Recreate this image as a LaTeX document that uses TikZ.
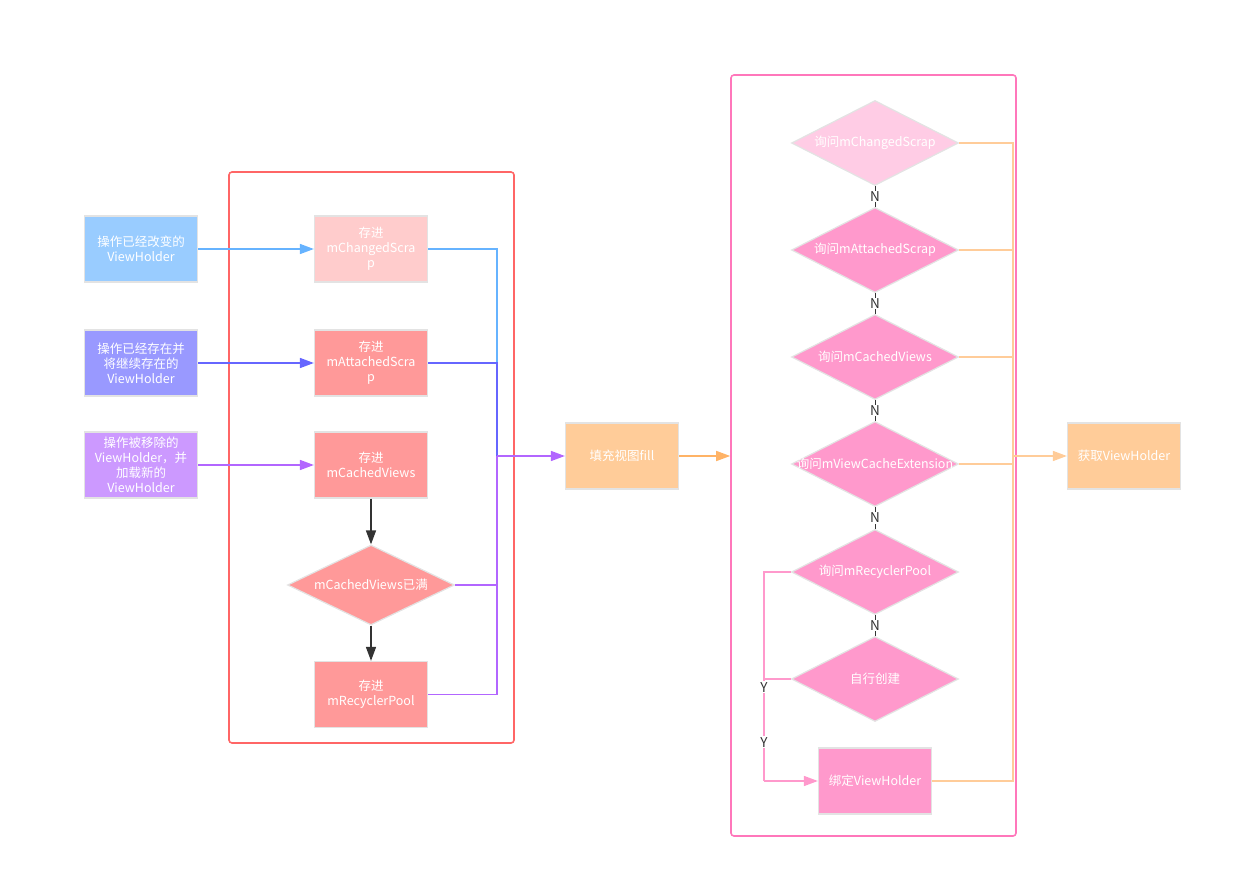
\documentclass[tikz,border=0pt]{standalone}
\usepackage{fontspec}
\setmainfont{Noto Sans CJK SC}
\usepackage{xcolor}
\usetikzlibrary{positioning}
\usetikzlibrary{arrows.meta,shapes.geometric}

\definecolor{srcblue}{HTML}{99CCFF}
\definecolor{srcviolet}{HTML}{9999FF}
\definecolor{srcpurple}{HTML}{CC99FF}
\definecolor{savelight}{HTML}{FFCCCC}
\definecolor{savered}{HTML}{FF9999}
\definecolor{fillorange}{HTML}{FFCC99}
\definecolor{asklight}{HTML}{FFCCE5}
\definecolor{askpink}{HTML}{FF99CC}
\definecolor{edgegray}{HTML}{E3E3E3}
\definecolor{lineblue}{HTML}{66B3FF}
\definecolor{lineviolet}{HTML}{6666FF}
\definecolor{linepurple}{HTML}{B266FF}
\definecolor{lineorange}{HTML}{FFB366}
\definecolor{lightorange}{HTML}{FFCC99}
\definecolor{pinkline}{HTML}{FF99CC}
\definecolor{darkline}{HTML}{333333}
\definecolor{redframe}{HTML}{FF6666}
\definecolor{pinkframe}{HTML}{FF77BB}

\tikzset{
  box/.style={rectangle, draw=edgegray, line width=1.2pt, minimum width=113pt,
    minimum height=66pt, text=white, align=center, font=\fontsize{12.5}{15}\selectfont},
  ask/.style={diamond, draw=edgegray, line width=1.2pt, minimum width=167pt,
    minimum height=85pt, inner sep=0pt, fill=askpink, text=white, font=\fontsize{12.5}{15}\selectfont},
  frame/.style={rectangle, line width=1.6pt, rounded corners=3pt},
  flow/.style={line width=1.5pt},
  wire/.style={line width=1.5pt, -{Triangle[length=14pt,width=10pt]}},
  flag/.style={fill=white, text=darkline, inner sep=1pt, font=\fontsize{13.5}{13.5}\selectfont},
}

\begin{document}
\begin{tikzpicture}[x=1pt,y=-1pt,node distance=107pt,on grid]
  \useasboundingbox (0,0) rectangle (1240,896);
  % frames
  \node[frame,draw=redframe,minimum width=285pt,minimum height=571pt] (store) at (371.5,457.5) {};
  \node[frame,draw=pinkframe,minimum width=285pt,minimum height=761pt] (query) at (873.5,455.5) {};
  % sources
  \node[box,fill=srcblue] (vhA) at (141,249) {操作已经改变的\\ViewHolder};
  \node[box,fill=srcviolet] (vhB) [below=114pt of vhA] {操作已经存在并\\将继续存在的\\ViewHolder};
  \node[box,fill=srcpurple] (vhC) [below=102pt of vhB] {操作被移除的\\ViewHolder，并\\加载新的\\ViewHolder};
  % store
  \node[box,fill=savelight] (saveA) [right=230pt of vhA] {存进\\mChangedScra\\p};
  \node[box,fill=savered] (saveB) [right=230pt of vhB] {存进\\mAttachedScra\\p};
  \node[box,fill=savered] (cached) [right=230pt of vhC] {存进\\mCachedViews};
  \node[ask,fill=savered,minimum height=80pt] (full) [below=120pt of cached] {\makebox[0pt]{mCachedViews已满}};
  \node[box,fill=savered] (pool) [below=109.5pt of full] {存进\\mRecyclerPool};
  \node[box,fill=fillorange] (fill) at (622,456) {填充视图fill};
  % query
  \node[ask,fill=asklight] (ask1) at (875,143) {\makebox[0pt]{询问mChangedScrap}};
  \node[ask] (ask2) [below=of ask1] {\makebox[0pt]{询问mAttachedScrap}};
  \node[ask] (ask3) [below=of ask2] {\makebox[0pt]{询问mCachedViews}};
  \node[ask] (ask4) [below=of ask3] {\makebox[0pt]{询问mViewCacheExtension}};
  \node[ask] (ask5) [below=108pt of ask4] {\makebox[0pt]{询问mRecyclerPool}};
  \node[ask] (ask6) [below=of ask5] {\makebox[0pt]{自行创建}};
  \node[box,fill=askpink] (bind) [below=102pt of ask6] {绑定ViewHolder};
  \node[box,fill=fillorange] (get) at (1124,456) {获取ViewHolder};
  \coordinate (inlet) at (497,456);
  \coordinate (outlet) at (1013,456);
  \coordinate (yes) at (764,781);

  \draw[wire,draw=lineblue] (vhA) -- (saveA);
  \draw[wire,draw=lineviolet] (vhB) -- (saveB);
  \draw[wire,draw=linepurple] (vhC) -- (cached);
  \draw[wire,draw=darkline] (cached) -- (full);
  \draw[wire,draw=darkline] (full) -- (pool);
  \draw[flow,draw=lineblue] (saveA) -| (inlet);
  \draw[flow,draw=lineviolet] (saveB) -| (inlet);
  \draw[flow,draw=linepurple] (full) -| (inlet);
  \draw[flow,draw=linepurple] (pool) -| (inlet);
  \draw[wire,draw=linepurple] (inlet) -- (fill);
  \draw[wire,draw=lineorange] (fill) -- (fill -| query.west);

  \draw[darkline] (ask1) -- node[flag] {N} (ask2);
  \draw[darkline] (ask2) -- node[flag] {N} (ask3);
  \draw[darkline] (ask3) -- node[flag] {N} (ask4);
  \draw[darkline] (ask4) -- node[flag] {N} (ask5);
  \draw[darkline] (ask5) -- node[flag] {N} (ask6);

  \draw[flow,draw=pinkline] (ask5) -| (yes);
  \draw[flow,draw=pinkline] (ask6) -| node[flag,pos=0.54] {Y} node[flag,pos=0.81] {Y} (yes);
  \draw[wire,draw=pinkline] (yes) -- (bind);

  \foreach \n in {ask1,ask2,ask3,ask4,bind}
    \draw[flow,draw=lightorange] (\n) -| (outlet);
  \draw[wire,draw=lightorange] (outlet) -- (get);
\end{tikzpicture}
\end{document}
